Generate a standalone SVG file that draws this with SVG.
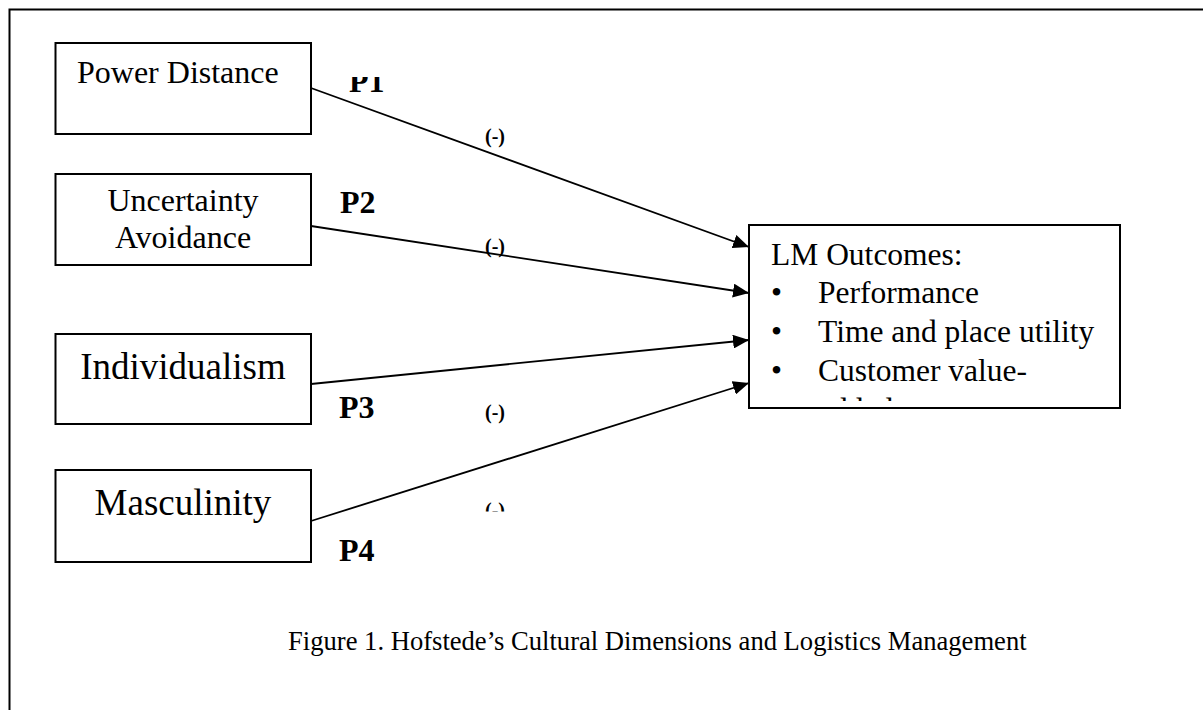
<svg xmlns="http://www.w3.org/2000/svg" width="1203" height="710" viewBox="0 0 1203 710">
<style>
.box{fill:#fff;stroke:#000;stroke-width:2}
.t{font-family:"Liberation Serif","Times New Roman",serif;fill:#000}
.p{font-family:"Liberation Serif","Times New Roman",serif;font-weight:bold;font-size:32px;fill:#000}
.m{font-family:"Liberation Serif","Times New Roman",serif;font-weight:bold;font-size:20px;fill:#000}
.c{fill:none;stroke:#000;stroke-width:1.8}
</style>
<defs>
<marker id="ah" markerUnits="userSpaceOnUse" markerWidth="17" markerHeight="14" refX="16" refY="7" orient="auto">
<path d="M0,0 L16,7 L0,14 z" fill="#000"/>
</marker>
<clipPath id="clipP1"><rect x="330" y="77" width="80" height="40"/></clipPath>
<clipPath id="clipM4"><rect x="470" y="480" width="60" height="31.5"/></clipPath>
<clipPath id="clipLM"><rect x="750" y="226" width="369" height="175"/></clipPath>
</defs>
<rect x="9.5" y="9.5" width="1300" height="800" fill="#fff" stroke="#000" stroke-width="2"/>
<g id="connectors">
<line class="c" x1="311" y1="88" x2="749" y2="247" marker-end="url(#ah)"/>
<line class="c" x1="311" y1="226" x2="749" y2="293" marker-end="url(#ah)"/>
<line class="c" x1="311" y1="384" x2="749" y2="340" marker-end="url(#ah)"/>
<line class="c" x1="311" y1="521" x2="749" y2="383" marker-end="url(#ah)"/>
<text class="p" x="349" y="92" clip-path="url(#clipP1)">P1</text>
<text class="p" x="340" y="213">P2</text>
<text class="p" x="339" y="418">P3</text>
<text class="p" x="339" y="561">P4</text>
<text class="m" x="485" y="143">(-)</text>
<text class="m" x="485" y="253">(-)</text>
<text class="m" x="485" y="419">(-)</text>
<text class="m" x="485" y="517" clip-path="url(#clipM4)">(-)</text>
</g>
<g id="power-distance">
<rect class="box" x="55.5" y="43" width="255.5" height="91"/>
<text class="t" x="77" y="83" font-size="32">Power Distance</text>
</g>
<g id="uncertainty-avoidance">
<rect class="box" x="55.5" y="174" width="255.5" height="91"/>
<text class="t" x="183" y="211" font-size="32" text-anchor="middle">Uncertainty</text>
<text class="t" x="183" y="248" font-size="32" text-anchor="middle">Avoidance</text>
</g>
<g id="individualism">
<rect class="box" x="55.5" y="334" width="255.5" height="90"/>
<text class="t" x="183" y="379" font-size="37" text-anchor="middle">Individualism</text>
</g>
<g id="masculinity">
<rect class="box" x="55.5" y="470" width="255.5" height="92"/>
<text class="t" x="183" y="515" font-size="37" text-anchor="middle">Masculinity</text>
</g>
<g id="lm-outcomes">
<rect class="box" x="749" y="225" width="371" height="183"/>
<g clip-path="url(#clipLM)">
<text class="t" x="771" y="265" font-size="31.5">LM Outcomes:</text>
<text class="t" x="771" y="303" font-size="31.5">•</text>
<text class="t" x="818" y="303" font-size="31.5">Performance</text>
<text class="t" x="771" y="342" font-size="31.5">•</text>
<text class="t" x="818" y="342" font-size="31.5">Time and place utility</text>
<text class="t" x="771" y="381" font-size="31.5">•</text>
<text class="t" x="818" y="381" font-size="31.5">Customer value-</text>
<text class="t" x="818" y="420" font-size="31.5">added</text>
</g>
</g>
<text class="t" x="288" y="650" font-size="26.6">Figure 1. Hofstede’s Cultural Dimensions and Logistics Management</text>
</svg>
